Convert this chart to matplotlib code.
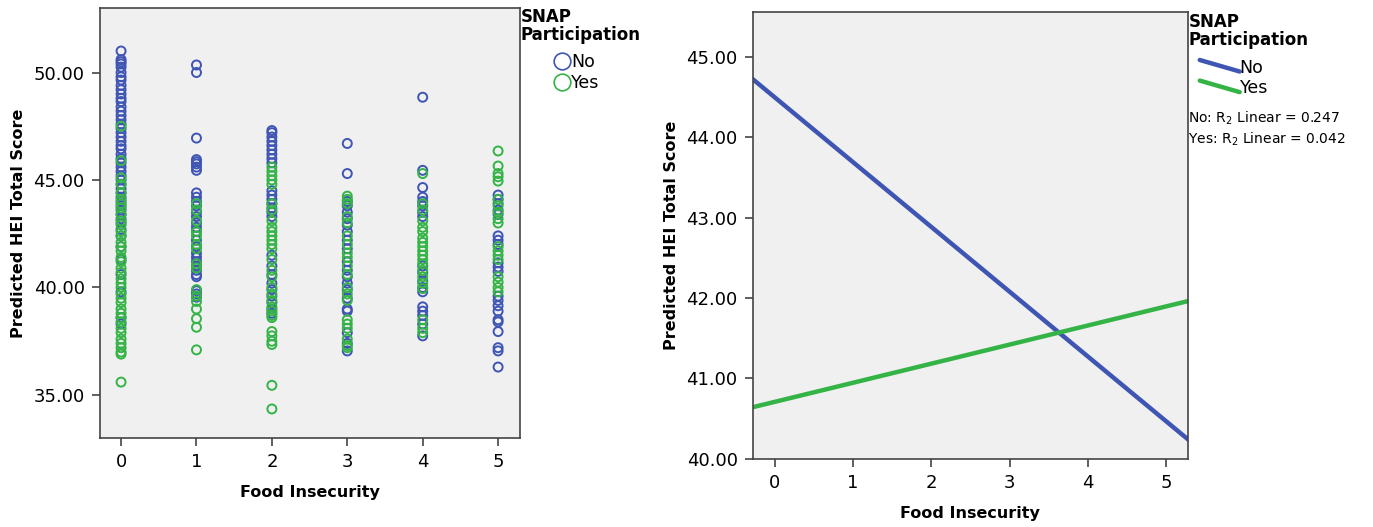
import numpy as np
import matplotlib
matplotlib.use('Agg')
import matplotlib.pyplot as plt
from matplotlib.lines import Line2D
from matplotlib.legend_handler import HandlerBase

# food insecurity levels
levels = [0, 1, 2, 3, 4, 5]

# predicted HEI scores, SNAP = No, one list per food insecurity level
no_fi0 = [51.0, 50.6, 50.5, 50.4, 50.25, 50.0, 49.8, 49.65, 49.4, 49.2, 49.0, 48.8,
          48.65, 48.4, 48.2, 48.0, 47.8, 47.6, 47.4, 47.2, 47.0, 46.8, 46.6, 46.45,
          46.2, 46.0, 45.8, 45.6, 45.4, 45.2, 45.0, 44.8, 44.6, 44.4, 44.2, 44.0,
          43.8, 43.6, 43.4, 43.2, 43.0, 42.7, 42.4, 41.9, 41.3, 40.6, 39.8, 38.6, 38.3]
no_fi1 = [50.35, 50.0, 46.95, 45.95, 45.85, 45.75, 45.6, 45.45, 44.4, 44.2, 44.0, 43.8,
          43.5, 43.3, 43.0, 42.8, 42.6, 42.2, 41.9, 41.6, 41.4, 41.2, 41.0, 40.8, 40.6,
          40.5, 39.85, 39.7, 39.55]
no_fi2 = [47.3, 47.2, 47.0, 46.8, 46.6, 46.4, 46.2, 46.0, 45.8, 44.5, 44.3, 44.1, 43.9,
          43.7, 43.5, 43.3, 41.5, 41.0, 40.6, 40.2, 39.9, 39.6, 39.3, 39.0, 38.8]
no_fi3 = [46.7, 45.3, 44.0, 43.8, 43.5, 43.2, 42.9, 42.6, 42.2, 41.8, 41.2, 40.8, 40.5,
          40.2, 39.9, 39.5, 39.0, 38.9, 37.9, 37.4, 37.05]
no_fi4 = [48.85, 45.45, 44.65, 44.2, 44.0, 43.8, 43.5, 43.3, 41.0, 40.7, 40.3, 40.0,
          39.8, 39.1, 38.9, 38.7, 38.3, 37.75]
no_fi5 = [44.3, 44.1, 43.9, 43.6, 43.4, 42.4, 42.2, 42.0, 41.15, 40.95, 40.75, 39.6,
          39.4, 39.15, 38.9, 38.5, 38.4, 37.95, 37.2, 37.05, 36.3]

# SNAP = Yes
yes_fi0 = [47.5, 45.9, 45.1, 44.8, 44.4, 44.1, 43.9, 43.7, 43.4, 43.1, 42.9, 42.6, 42.4,
           42.1, 41.9, 41.7, 41.4, 41.2, 40.9, 40.7, 40.4, 40.2, 40.0, 39.7, 39.5, 39.3,
           39.0, 38.8, 38.6, 38.4, 38.1, 37.9, 37.6, 37.4, 37.2, 37.0, 36.9, 35.6]
yes_fi1 = [43.9, 43.6, 43.1, 42.6, 42.4, 42.0, 41.8, 41.1, 40.9, 39.9, 39.6, 39.35, 39.0,
           38.55, 38.15, 37.1]
yes_fi2 = [45.6, 45.4, 45.2, 45.0, 44.8, 43.9, 43.6, 43.1, 42.8, 42.6, 42.4, 42.2, 42.0,
           41.8, 41.3, 40.8, 40.5, 40.0, 39.7, 39.4, 39.1, 38.9, 38.7, 38.6, 37.95, 37.75,
           37.5, 37.35, 35.45, 34.35]
yes_fi3 = [44.25, 44.1, 43.9, 43.3, 43.0, 42.4, 42.0, 41.6, 41.4, 41.0, 40.6, 40.0, 39.7,
           39.4, 38.5, 38.3, 38.1, 37.6, 37.3, 37.2]
yes_fi4 = [45.3, 43.9, 43.6, 43.1, 42.8, 42.6, 42.3, 42.1, 41.9, 41.7, 41.5, 41.3, 41.1,
           40.8, 40.5, 40.2, 39.95, 38.5, 38.1, 37.9]
yes_fi5 = [46.35, 45.65, 45.3, 45.15, 44.95, 44.1, 43.8, 43.5, 43.2, 43.0, 41.9, 41.7,
           41.5, 41.3, 40.5, 40.25, 40.0, 39.8]

no_scores = [no_fi0, no_fi1, no_fi2, no_fi3, no_fi4, no_fi5]
yes_scores = [yes_fi0, yes_fi1, yes_fi2, yes_fi3, yes_fi4, yes_fi5]

# fitted lines, read at the edges of the right panel
fit_x = [-0.28, 5.28]
fit_no = [44.72, 40.24]
fit_yes = [40.64, 41.96]
r2_no = 0.247
r2_yes = 0.042

blue = '#3f55b4'
green = '#34b446'
bg = '#f0f0f0'


class DiagHandler(HandlerBase):
    # short slanted line as in the SPSS legend
    def create_artists(self, legend, orig, xd, yd, w, h, fontsize, trans):
        ln = Line2D([-xd, -xd + w], [-yd + h * 1.05, -yd + h * 0.1],
                    color=orig.get_color(), lw=orig.get_linewidth(),
                    solid_capstyle='round')
        ln.set_transform(trans)
        return [ln]


plt.rcParams['font.family'] = 'DejaVu Sans'
fig = plt.figure(figsize=(13.73, 5.27), dpi=100)

ax1 = fig.add_axes([0.0728, 0.1689, 0.3059, 0.8159])
ax2 = fig.add_axes([0.5484, 0.1298, 0.3168, 0.8478])

for ax in (ax1, ax2):
    ax.set_facecolor(bg)
    for s in ax.spines.values():
        s.set_color('#444444')
        s.set_linewidth(1.2)
    ax.tick_params(axis='both', direction='out', length=6, width=1.2,
                   color='#444444', labelsize=13, pad=5, top=False, right=False)
    ax.set_xticks(levels)
    ax.set_xlabel('Food Insecurity', fontsize=11.5, fontweight='bold', labelpad=10)
    ax.set_ylabel('Predicted HEI Total Score', fontsize=11.5, fontweight='bold', labelpad=5)

# left: scatter
for k, vals in zip(levels, no_scores):
    ax1.scatter(np.full(len(vals), k), vals, s=42, facecolors='none',
                edgecolors=blue, linewidths=1.4)
for k, vals in zip(levels, yes_scores):
    ax1.scatter(np.full(len(vals), k), vals, s=42, facecolors='none',
                edgecolors=green, linewidths=1.4)
ax1.set_xlim(-0.28, 5.29)
ax1.set_ylim(33.0, 53.0)
ax1.set_yticks([35, 40, 45, 50])
ax1.set_yticklabels(['35.00', '40.00', '45.00', '50.00'])

fig.text(0.379, 0.985, 'SNAP\nParticipation', ha='left', va='top',
         fontsize=12, fontweight='bold', linespacing=1.0)
h_no = Line2D([], [], ls='none', marker='o', ms=12, mfc='none', mec=blue, mew=1.2)
h_yes = Line2D([], [], ls='none', marker='o', ms=12, mfc='none', mec=green, mew=1.2)
fig.legend([h_no, h_yes], ['No', 'Yes'], loc='upper left',
           bbox_to_anchor=(0.398, 0.915), frameon=False, fontsize=12.5,
           handlelength=0.8, handletextpad=0.1, labelspacing=0.15, borderpad=0)

# right: fit lines
ax2.plot(fit_x, fit_no, color=blue, lw=3.2)
ax2.plot(fit_x, fit_yes, color=green, lw=3.2)
ax2.set_xlim(-0.28, 5.28)
ax2.set_ylim(40.0, 45.56)
ax2.set_yticks([40, 41, 42, 43, 44, 45])
ax2.set_yticklabels(['40.00', '41.00', '42.00', '43.00', '44.00', '45.00'])

fig.text(0.8655, 0.975, 'SNAP\nParticipation', ha='left', va='top',
         fontsize=12, fontweight='bold', linespacing=1.0)
l_no = Line2D([], [], color=blue, lw=3.2)
l_yes = Line2D([], [], color=green, lw=3.2)
fig.legend([l_no, l_yes], ['No', 'Yes'], loc='upper left',
           bbox_to_anchor=(0.8675, 0.905), frameon=False, fontsize=12.5,
           handler_map={Line2D: DiagHandler()},
           handlelength=2.3, handletextpad=0.0, labelspacing=0.15, borderpad=0)
fig.text(0.8655, 0.775, 'No: R$_2$ Linear = %.3f' % r2_no, ha='left', va='center',
         fontsize=10)
fig.text(0.8655, 0.735, 'Yes: R$_2$ Linear = %.3f' % r2_yes, ha='left', va='center',
         fontsize=10)

fig.savefig('out.png', dpi=100, facecolor='white')
